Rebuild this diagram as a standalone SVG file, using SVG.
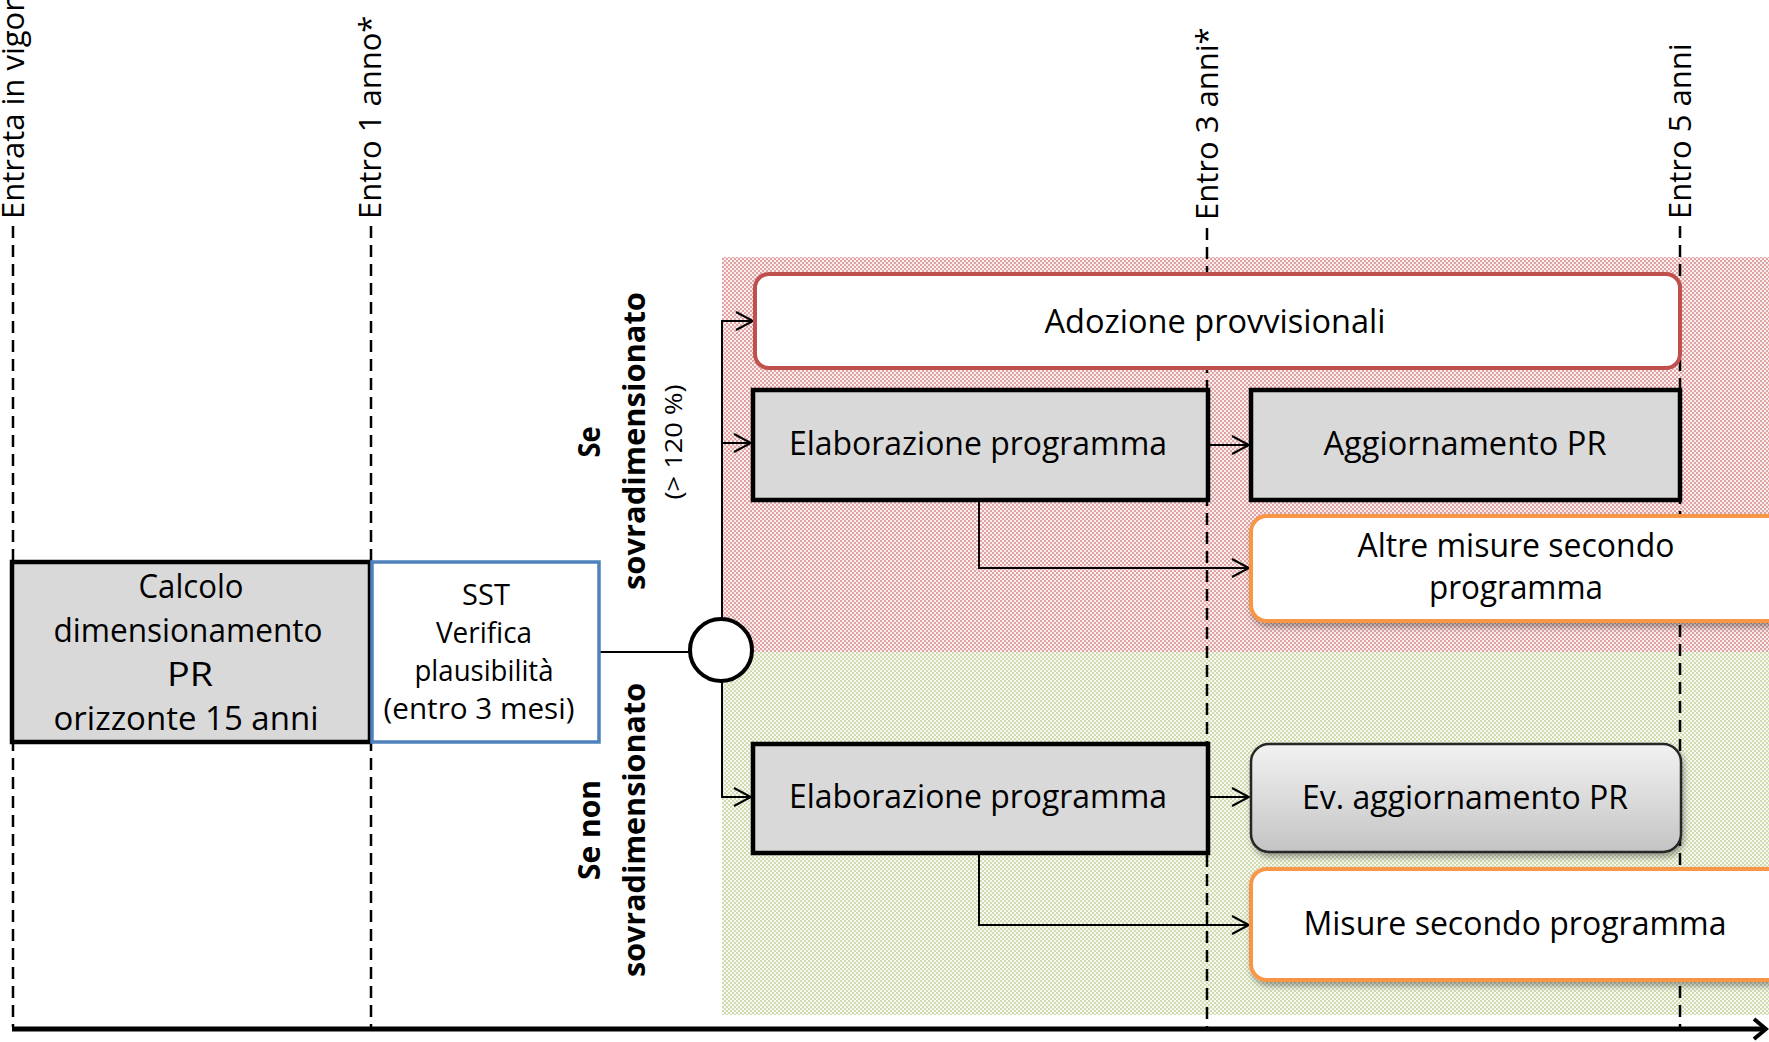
<svg xmlns="http://www.w3.org/2000/svg" width="1769" height="1042" viewBox="0 0 1769 1042">
<style>
.lbl{font-family:"Open Sans","Noto Sans",sans-serif;font-size:31px;fill:#000}
.t{font-family:"Open Sans","Noto Sans",sans-serif;font-size:32px;fill:#000;text-anchor:middle}
.t2{font-family:"Open Sans","Noto Sans",sans-serif;font-size:29px;fill:#000;text-anchor:middle}
.b{font-family:"Open Sans","Noto Sans",sans-serif;font-weight:bold;font-size:31px;fill:#000;text-anchor:middle}
.s{font-family:"Open Sans","Noto Sans",sans-serif;font-size:23px;fill:#000;text-anchor:middle}
.dash{stroke:#000;stroke-width:2.5;stroke-dasharray:12 7;fill:none}
.gray{fill:#d9d9d9;stroke:#000;stroke-width:4.5}
.con{stroke:#000;stroke-width:2;fill:none}
.arr{stroke:#000;stroke-width:2;fill:none;marker-end:url(#ah)}
.orange{fill:#fff;stroke:#f79646;stroke-width:4}
</style>
<defs>
<pattern id="pr" width="4" height="4" patternUnits="userSpaceOnUse"><rect width="4" height="4" fill="#fbeeee"/><rect width="2" height="2" fill="#dea3a2"/><rect x="2" y="2" width="2" height="2" fill="#dea3a2"/></pattern>
<pattern id="pg" width="4" height="4" patternUnits="userSpaceOnUse"><rect width="4" height="4" fill="#f7f9f1"/><rect width="2" height="2" fill="#cfdbb0"/><rect x="2" y="2" width="2" height="2" fill="#cfdbb0"/></pattern>
<linearGradient id="gEv" x1="0" y1="0" x2="0" y2="1"><stop offset="0" stop-color="#f2f2f2"/><stop offset="1" stop-color="#c4c4c4"/></linearGradient>
<filter id="sh" x="-10%" y="-20%" width="120%" height="150%"><feDropShadow dx="2" dy="4" stdDeviation="3" flood-color="#000" flood-opacity="0.35"/></filter>
<marker id="ah" markerUnits="userSpaceOnUse" markerWidth="22" markerHeight="22" viewBox="0 0 22 22" refX="20" refY="11" orient="auto"><path d="M3,2 L20,11 L3,20" fill="none" stroke="#000" stroke-width="2"/></marker>
</defs>

<g id="bands">
<rect x="722" y="257" width="1047" height="395" fill="url(#pr)"/>
<rect x="722" y="652" width="1047" height="363" fill="url(#pg)"/>
</g>

<g id="timeline">
<line class="dash" x1="13" y1="226" x2="13" y2="1027"/>
<line class="dash" x1="371" y1="226" x2="371" y2="1027"/>
<line class="dash" x1="1207" y1="228" x2="1207" y2="1027"/>
<line class="dash" x1="1680" y1="226" x2="1680" y2="1027"/>
<text class="lbl" transform="translate(24,219) rotate(-90)">Entrata in vigore</text>
<text class="lbl" transform="translate(381,219) rotate(-90)">Entro 1 anno*</text>
<text class="lbl" transform="translate(1218,220) rotate(-90)">Entro 3 anni*</text>
<text class="lbl" transform="translate(1691,219) rotate(-90)">Entro 5 anni</text>
</g>

<g id="connectors">
<line x1="12" y1="1029" x2="1764" y2="1029" stroke="#000" stroke-width="5"/>
<path d="M1754,1019 L1766,1029 L1754,1039" fill="none" stroke="#000" stroke-width="4"/>
<line class="con" x1="599" y1="652" x2="690" y2="652"/>
<line class="con" x1="722" y1="321" x2="722" y2="798"/>
<line class="arr" x1="721" y1="321" x2="753" y2="321"/>
<line class="arr" x1="721" y1="443" x2="751" y2="443"/>
<line class="arr" x1="721" y1="797" x2="751" y2="797"/>
<line class="arr" x1="1209" y1="445" x2="1249" y2="445"/>
<line class="arr" x1="1209" y1="797" x2="1249" y2="797"/>
<polyline class="arr" points="979,502 979,568 1249,568"/>
<polyline class="arr" points="979,855 979,925 1249,925"/>
</g>

<g id="calcolo">
<rect class="gray" x="12" y="562" width="358" height="180"/>
<text class="t" x="191" y="598" textLength="105" lengthAdjust="spacingAndGlyphs">Calcolo</text>
<text class="t" x="188" y="642" textLength="269" lengthAdjust="spacingAndGlyphs">dimensionamento</text>
<text class="t" x="190" y="686" textLength="46" lengthAdjust="spacingAndGlyphs">PR</text>
<text class="t" x="186" y="730" textLength="265" lengthAdjust="spacingAndGlyphs">orizzonte 15 anni</text>
</g>

<g id="sst">
<rect x="372" y="562" width="227" height="180" fill="#fff" stroke="#4f81bd" stroke-width="3.5"/>
<text class="t2" x="486" y="605">SST</text>
<text class="t2" x="484" y="643" textLength="96" lengthAdjust="spacingAndGlyphs">Verifica</text>
<text class="t2" x="484" y="681" textLength="139" lengthAdjust="spacingAndGlyphs">plausibilità</text>
<text class="t2" x="479" y="719" textLength="191" lengthAdjust="spacingAndGlyphs">(entro 3 mesi)</text>
</g>

<g id="decisione">
<circle cx="721" cy="650" r="31" fill="#fff" stroke="#000" stroke-width="4"/>
</g>

<g id="label-sovra">
<text class="b" transform="translate(600,442) rotate(-90)" textLength="31" lengthAdjust="spacingAndGlyphs">Se</text>
<text class="b" transform="translate(645,441) rotate(-90)" textLength="298" lengthAdjust="spacingAndGlyphs">sovradimensionato</text>
<text class="s" transform="translate(682,442) rotate(-90)" textLength="115" lengthAdjust="spacingAndGlyphs">(&gt; 120 %)</text>
</g>

<g id="label-non-sovra">
<text class="b" transform="translate(600,830) rotate(-90)" textLength="100" lengthAdjust="spacingAndGlyphs">Se non</text>
<text class="b" transform="translate(645,830) rotate(-90)" textLength="294" lengthAdjust="spacingAndGlyphs">sovradimensionato</text>
</g>

<g id="adozione">
<rect x="755" y="274" width="925" height="94" rx="14" fill="#fff" stroke="#c0504d" stroke-width="4"/>
<text class="t" x="1215" y="333" textLength="341" lengthAdjust="spacingAndGlyphs">Adozione provvisionali</text>
</g>

<g id="elab-sovra">
<rect class="gray" x="753" y="390" width="455" height="110"/>
<text class="t" x="978" y="455" textLength="378" lengthAdjust="spacingAndGlyphs">Elaborazione  programma</text>
</g>

<g id="aggiornamento">
<rect class="gray" x="1251" y="390" width="429" height="110"/>
<text class="t" x="1465" y="455" textLength="283" lengthAdjust="spacingAndGlyphs">Aggiornamento PR</text>
</g>

<g id="altre-misure">
<rect class="orange" x="1251" y="516" width="560" height="105" rx="16" filter="url(#sh)"/>
<text class="t" x="1516" y="557" textLength="317" lengthAdjust="spacingAndGlyphs">Altre misure secondo</text>
<text class="t" x="1516" y="599" textLength="174" lengthAdjust="spacingAndGlyphs">programma</text>
</g>

<g id="elab-non-sovra">
<rect class="gray" x="753" y="744" width="455" height="109"/>
<text class="t" x="978" y="808" textLength="378" lengthAdjust="spacingAndGlyphs">Elaborazione  programma</text>
</g>

<g id="ev-aggiornamento">
<rect x="1251" y="744" width="430" height="108" rx="18" fill="url(#gEv)" stroke="#262626" stroke-width="2.5" filter="url(#sh)"/>
<text class="t" x="1465" y="809" textLength="326" lengthAdjust="spacingAndGlyphs">Ev. aggiornamento PR</text>
</g>

<g id="misure">
<rect class="orange" x="1251" y="869" width="560" height="111" rx="16" filter="url(#sh)"/>
<text class="t" x="1515" y="935" textLength="423" lengthAdjust="spacingAndGlyphs">Misure secondo programma</text>
</g>
</svg>
